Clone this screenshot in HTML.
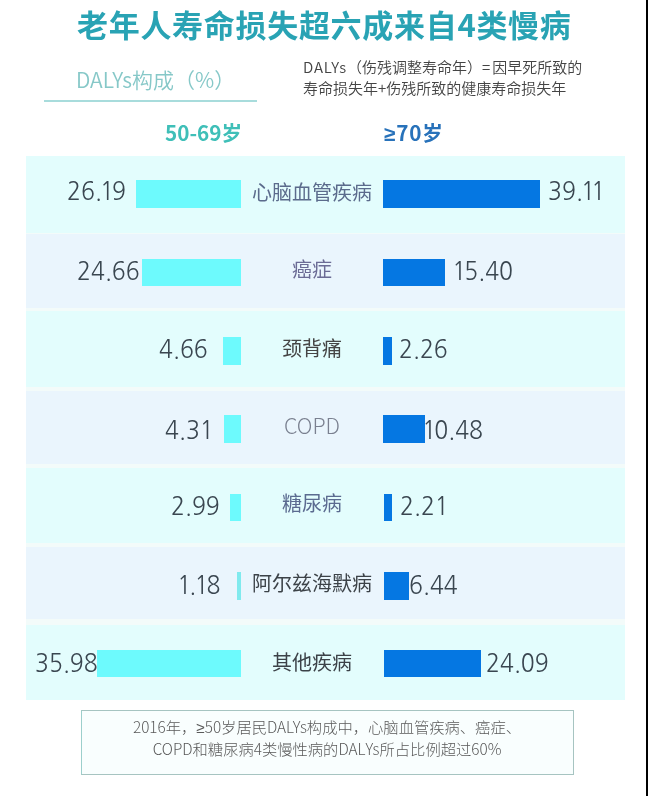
<!DOCTYPE html>
<html><head><meta charset="utf-8">
<style>
*{margin:0;padding:0;box-sizing:border-box}
html,body{width:648px;height:796px;background:#fff;overflow:hidden}
body{position:relative;text-spacing-trim:space-all;font-family:"Liberation Sans","Noto Sans CJK SC",sans-serif}
.a{position:absolute;white-space:nowrap}
.cjk{font-family:"Noto Sans CJK SC","Liberation Sans",sans-serif}
#title{left:77px;top:4px;font-size:31px;letter-spacing:0.7px;line-height:40px;font-weight:700;color:#29a3b4}
#dl{left:76px;top:65px;font-size:21px;line-height:28px;font-weight:350;color:#86c8c8}
#uline{left:44px;top:100px;width:213px;height:2px;background:#a8dcdc}
#note{left:303px;top:56px;font-size:15px;line-height:21px;color:#444;font-weight:350}
#h1{left:165px;top:117.5px;font-size:20.7px;line-height:28px;font-weight:700;color:#3fbfb8}
#h2{left:384px;top:117.5px;font-size:20.7px;letter-spacing:0.8px;line-height:28px;font-weight:700;color:#2872ba}
.row{position:absolute;left:26px;width:599px}
.c{background:#e3fdfd}
.l{background:#eaf5fd}
.bl{position:absolute;background:#6dfafd}
.br{position:absolute;background:#0577e2}
.num{position:absolute;font-family:"NanumGothic","Noto Sans CJK SC",sans-serif;font-size:25px;line-height:30px;color:#3a4650;white-space:nowrap;transform:scaleX(0.92);transform-origin:0 0}
.num b{font-weight:400;margin:0 -2px}
.ge{font-family:"Liberation Sans",sans-serif}
.lab{position:absolute;font-family:"Noto Sans CJK SC","Liberation Sans",sans-serif;font-size:20px;line-height:24px;white-space:nowrap;width:200px;left:212px;text-align:center}
#box{left:80.5px;top:709.5px;width:493px;height:65.5px;border:1.5px solid #a6c4c1;border-left-color:#9ccfcc;background:#f9fefe}
#boxt{left:81px;top:716px;width:492px;text-align:center;font-size:15.3px;line-height:21px;color:#5a5a5a;font-weight:300}
#edge{left:646px;top:0;width:2px;height:796px;background:#000}
</style></head><body>
<div class="a cjk" id="title">老年人寿命损失超六成来自4类慢病</div>
<div class="a cjk" id="dl">DALYs构成（%）</div>
<div class="a" id="uline"></div>
<div class="a cjk" id="note"><span style="letter-spacing:0.8px">DALYs</span>（伤残调整寿命年）=<span style="margin-left:2px">因</span>早死所致的<br>寿命损失年+伤残所致的健康寿命损失年</div>
<div class="a cjk" id="h1">50-69岁</div>
<div class="a cjk" id="h2"><span class="ge">≥</span>70岁</div>

<div class="row" style="top:156px;height:544px;background:#f3fbfa"></div>
<div class="row c" style="top:156px;height:77px"></div>
<div class="row l" style="top:234px;height:74px"></div>
<div class="row c" style="top:311px;height:76px"></div>
<div class="row l" style="top:391px;height:73px"></div>
<div class="row c" style="top:468px;height:75px"></div>
<div class="row l" style="top:547px;height:72px"></div>
<div class="row c" style="top:625px;height:75px"></div>

<!-- row1 -->
<div class="bl" style="left:136px;width:105px;top:180px;height:28px"></div>
<div class="br" style="left:383px;width:157px;top:180px;height:28px"></div>
<div class="num" style="left:67.4px;top:176.9px">26.<b>1</b>9</div>
<div class="num" style="left:547.8px;top:176.9px">39.<b>1</b><b>1</b></div>
<div class="lab" style="top:179.7px;color:#5b6b8c">心脑血管疾病</div>
<!-- row2 -->
<div class="bl" style="left:142px;width:99px;top:259px;height:27px"></div>
<div class="br" style="left:383px;width:62px;top:259px;height:27px"></div>
<div class="num" style="left:76.6px;top:257.3px">24.66</div>
<div class="num" style="left:454.4px;top:257.3px"><b>1</b>5.40</div>
<div class="lab" style="top:257.4px;color:#6b6b95">癌症</div>
<!-- row3 -->
<div class="bl" style="left:223px;width:18px;top:337px;height:28px"></div>
<div class="br" style="left:383px;width:9px;top:337px;height:28px"></div>
<div class="num" style="left:158.7px;top:334.9px">4.66</div>
<div class="num" style="left:398.6px;top:334.9px">2.26</div>
<div class="lab" style="top:335.9px;color:#454545">颈背痛</div>
<!-- row4 -->
<div class="bl" style="left:224px;width:17px;top:415px;height:28px"></div>
<div class="br" style="left:383px;width:42px;top:415px;height:28px"></div>
<div class="num" style="left:165.2px;top:416.2px">4.3<b style="margin-left:0">1</b></div>
<div class="num" style="left:424.2px;top:416.2px"><b>1</b>0.48</div>
<div class="lab" style="top:413.0px;color:#7a8090;font-family:'Noto Sans CJK SC',sans-serif;font-weight:300;font-size:21.5px">COPD</div>
<!-- row5 -->
<div class="bl" style="left:230px;width:11px;top:494px;height:27px"></div>
<div class="br" style="left:384px;width:8px;top:494px;height:27px"></div>
<div class="num" style="left:171.0px;top:492.2px">2.99</div>
<div class="num" style="left:400.2px;top:492.2px">2.2<b style="margin-left:0">1</b></div>
<div class="lab" style="top:490.9px;color:#5b6b90">糖尿病</div>
<!-- row6 -->
<div class="bl" style="left:237px;width:4px;top:572px;height:28px;background:#80eaee"></div>
<div class="br" style="left:384px;width:25px;top:572px;height:28px"></div>
<div class="num" style="left:178.9px;top:570.6px"><b>1</b>.<b>1</b>8</div>
<div class="num" style="left:408.7px;top:570.6px">6.44</div>
<div class="lab" style="top:571.0px;color:#3c4248">阿尔兹海默病</div>
<!-- row7 -->
<div class="bl" style="left:97px;width:144px;top:650px;height:27px"></div>
<div class="br" style="left:384px;width:97px;top:650px;height:27px"></div>
<div class="num" style="left:34.7px;top:648.5px">35.98</div>
<div class="num" style="left:485.8px;top:648.5px">24.09</div>
<div class="lab" style="top:649.7px;color:#3c4248">其他疾病</div>

<div class="a" id="box"></div>
<div class="a cjk" id="boxt">2016年，<span class="ge">≥</span>50岁居民DALYs构成中，心脑血管疾病、癌症、<br>COPD和糖尿病4类慢性病的DALYs所占比例超过60%</div>
<div class="a" id="edge"></div>
</body></html>
